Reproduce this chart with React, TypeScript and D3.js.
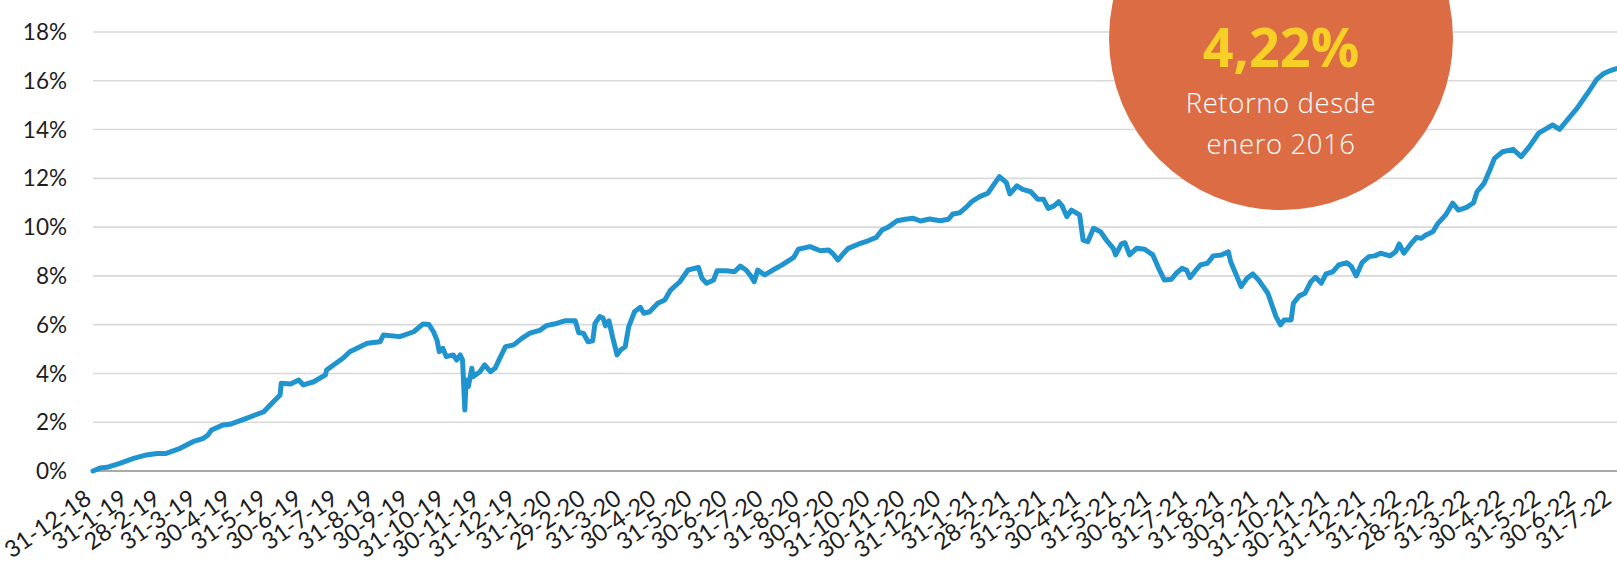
import React from "react";
import * as d3 from "d3";

const WIDTH = 1617;
const HEIGHT = 565;

const yTicks = [0, 2, 4, 6, 8, 10, 12, 14, 16, 18];

const xLabels = [
  "31-12-18", "31-1-19", "28-2-19", "31-3-19", "30-4-19", "31-5-19", "30-6-19", "31-7-19",
  "31-8-19", "30-9-19", "31-10-19", "30-11-19", "31-12-19", "31-1-20", "29-2-20", "31-3-20",
  "30-4-20", "31-5-20", "30-6-20", "31-7-20", "31-8-20", "30-9-20", "31-10-20", "30-11-20",
  "31-12-20", "31-1-21", "28-2-21", "31-3-21", "30-4-21", "31-5-21", "30-6-21", "31-7-21",
  "31-8-21", "30-9-21", "31-10-21", "30-11-21", "31-12-21", "31-1-22", "28-2-22", "31-3-22",
  "30-4-22", "31-5-22", "30-6-22", "31-7-22",
];

const dates = [
  "2018-12-31", "2019-01-06", "2019-01-12", "2019-01-23", "2019-02-04", "2019-02-15", "2019-02-24",
  "2019-03-04", "2019-03-16", "2019-03-27", "2019-04-05", "2019-04-09", "2019-04-12", "2019-04-22",
  "2019-04-29", "2019-05-12", "2019-05-27", "2019-06-03", "2019-06-10", "2019-06-11", "2019-06-19",
  "2019-06-26", "2019-06-30", "2019-07-09", "2019-07-19", "2019-07-20", "2019-08-03", "2019-08-09",
  "2019-08-24", "2019-09-04", "2019-09-07", "2019-09-21", "2019-10-03", "2019-10-11", "2019-10-16",
  "2019-10-20", "2019-10-23", "2019-10-25", "2019-10-28", "2019-10-31", "2019-11-06", "2019-11-09",
  "2019-11-12", "2019-11-14", "2019-11-16", "2019-11-17", "2019-11-19", "2019-11-22", "2019-11-23",
  "2019-11-29", "2019-12-03", "2019-12-08", "2019-12-12", "2019-12-16", "2019-12-21", "2019-12-28",
  "2020-01-04", "2020-01-11", "2020-01-20", "2020-01-25", "2020-02-03", "2020-02-10", "2020-02-19",
  "2020-02-22", "2020-02-26", "2020-03-01", "2020-03-05", "2020-03-07", "2020-03-11", "2020-03-14",
  "2020-03-16", "2020-03-19", "2020-03-22", "2020-03-26", "2020-03-29", "2020-04-02", "2020-04-05",
  "2020-04-10", "2020-04-15", "2020-04-18", "2020-04-23", "2020-04-30", "2020-05-06", "2020-05-11",
  "2020-05-19", "2020-05-26", "2020-06-04", "2020-06-07", "2020-06-11", "2020-06-17", "2020-06-20",
  "2020-06-28", "2020-07-05", "2020-07-10", "2020-07-15", "2020-07-19", "2020-07-22", "2020-07-25",
  "2020-07-31", "2020-08-07", "2020-08-15", "2020-08-25", "2020-08-29", "2020-09-08", "2020-09-17",
  "2020-09-24", "2020-09-28", "2020-10-02", "2020-10-07", "2020-10-11", "2020-10-20", "2020-10-28",
  "2020-11-04", "2020-11-09", "2020-11-14", "2020-11-22", "2020-11-29", "2020-12-06", "2020-12-12",
  "2020-12-20", "2020-12-29", "2021-01-05", "2021-01-09", "2021-01-15", "2021-01-21", "2021-01-25",
  "2021-02-01", "2021-02-08", "2021-02-13", "2021-02-18", "2021-02-24", "2021-02-27", "2021-03-05",
  "2021-03-10", "2021-03-17", "2021-03-23", "2021-03-28", "2021-04-01", "2021-04-06", "2021-04-10",
  "2021-04-13", "2021-04-17", "2021-04-21", "2021-04-28", "2021-05-01", "2021-05-05", "2021-05-10",
  "2021-05-16", "2021-05-21", "2021-05-27", "2021-05-29", "2021-06-03", "2021-06-06", "2021-06-10",
  "2021-06-16", "2021-06-23", "2021-06-30", "2021-07-05", "2021-07-10", "2021-07-16", "2021-07-20",
  "2021-07-25", "2021-07-29", "2021-08-01", "2021-08-05", "2021-08-10", "2021-08-16", "2021-08-21",
  "2021-08-28", "2021-09-03", "2021-09-05", "2021-09-08", "2021-09-14", "2021-09-19", "2021-09-24",
  "2021-09-29", "2021-10-03", "2021-10-07", "2021-10-11", "2021-10-14", "2021-10-18", "2021-10-21",
  "2021-10-27", "2021-10-29", "2021-11-03", "2021-11-08", "2021-11-13", "2021-11-17", "2021-11-22",
  "2021-11-26", "2021-12-02", "2021-12-07", "2021-12-14", "2021-12-18", "2021-12-22", "2021-12-27",
  "2022-01-02", "2022-01-07", "2022-01-12", "2022-01-20", "2022-01-25", "2022-01-28", "2022-02-01",
  "2022-02-07", "2022-02-12", "2022-02-16", "2022-02-20", "2022-02-26", "2022-03-02", "2022-03-09",
  "2022-03-15", "2022-03-20", "2022-03-27", "2022-04-02", "2022-04-05", "2022-04-11", "2022-04-16",
  "2022-04-20", "2022-04-27", "2022-05-06", "2022-05-13", "2022-05-20", "2022-05-28", "2022-06-04",
  "2022-06-09", "2022-06-15", "2022-06-20", "2022-06-30", "2022-07-10", "2022-07-17", "2022-07-23",
  "2022-07-30", "2022-08-03",
];

const values = [
  0.0, 0.12, 0.15, 0.31, 0.52, 0.66, 0.72,
  0.72, 0.93, 1.2, 1.34, 1.48, 1.68, 1.89,
  1.93, 2.16, 2.43, 2.78, 3.12, 3.6, 3.57,
  3.73, 3.53, 3.66, 3.94, 4.14, 4.62, 4.89,
  5.24, 5.3, 5.58, 5.51, 5.71, 6.03, 6.01,
  5.71, 5.37, 4.89, 5.03, 4.69, 4.76, 4.55,
  4.76, 4.55, 2.5, 3.73, 3.46, 4.21, 3.87,
  4.07, 4.35, 4.07, 4.21, 4.62, 5.1, 5.17,
  5.44, 5.65, 5.78, 5.96, 6.05, 6.16, 6.16,
  5.67, 5.65, 5.3, 5.34, 6.05, 6.33, 6.26,
  5.95, 6.16, 5.51, 4.76, 4.96, 5.1, 5.92,
  6.53, 6.71, 6.47, 6.53, 6.88, 7.01, 7.42,
  7.76, 8.24, 8.35, 7.9, 7.7, 7.83, 8.21,
  8.21, 8.17, 8.4, 8.24, 8.0, 7.76, 8.24,
  8.04, 8.24, 8.45, 8.76, 9.09, 9.2, 9.03,
  9.06, 8.9, 8.65, 8.93, 9.13, 9.31, 9.44,
  9.58, 9.88, 9.99, 10.26, 10.32, 10.36, 10.25,
  10.33, 10.26, 10.32, 10.54, 10.59, 10.84, 11.04,
  11.25, 11.39, 11.73, 12.07, 11.82, 11.36, 11.69,
  11.55, 11.45, 11.14, 11.14, 10.77, 10.87, 11.04,
  10.87, 10.43, 10.7, 10.5, 9.47, 9.4, 9.95,
  9.81, 9.47, 9.13, 8.86, 9.31, 9.36, 8.86,
  9.13, 9.09, 8.86, 8.31, 7.83, 7.86, 8.1,
  8.31, 8.24, 7.93, 8.17, 8.45, 8.52, 8.82,
  8.86, 8.99, 8.58, 8.24, 7.56, 7.9, 8.08,
  7.83, 7.56, 7.29, 6.74, 6.33, 5.99, 6.19,
  6.19, 6.88, 7.18, 7.29, 7.76, 7.94, 7.7,
  8.08, 8.17, 8.45, 8.54, 8.38, 8.0, 8.54,
  8.79, 8.82, 8.93, 8.82, 8.99, 9.31, 8.93,
  9.31, 9.58, 9.54, 9.68, 9.81, 10.13, 10.5,
  10.98, 10.7, 10.81, 11.0, 11.45, 11.79, 12.34,
  12.82, 13.09, 13.19, 12.89, 13.3, 13.85, 14.05,
  14.19, 14.01, 14.3, 14.87, 15.55, 16.06, 16.3,
  16.44, 16.5,
];

const badgeValue = "4,22%";
const badgeLines = ["Retorno desde", "enero 2016"];

const parseIso = d3.timeParse("%Y-%m-%d");
const parseLabel = d3.timeParse("%d-%m-%y");

export default function App() {
  const left = 93;
  const right = 1613;
  const top = 32;
  const bottom = 471;

  const x = d3
    .scaleTime()
    .domain([parseIso("2018-12-31") as Date, parseIso("2022-07-31") as Date])
    .range([left, right]);
  const y = d3.scaleLinear().domain([0, 18]).range([bottom, top]);

  const series = dates.map((d, i) => ({ date: parseIso(d) as Date, v: values[i] }));
  const line = d3
    .line<{ date: Date; v: number }>()
    .x((d) => x(d.date))
    .y((d) => y(d.v));

  const labelFont = "Lato, 'Open Sans', sans-serif";

  return (
    <svg
      width={WIDTH}
      height={HEIGHT}
      style={{ position: "absolute", left: 0, top: 0, background: "#fff" }}
    >
      {yTicks.map((t) => (
        <g key={t}>
          <line
            x1={left}
            x2={WIDTH}
            y1={y(t)}
            y2={y(t)}
            stroke={t === 0 ? "#8c8c8c" : "#d9d9d9"}
            strokeWidth={1.6}
          />
          <text
            x={67}
            y={y(t)}
            dy="0.36em"
            textAnchor="end"
            fontFamily={labelFont}
            fontSize={22.5}
            fill="#1e1e1e"
          >
            {t}%
          </text>
        </g>
      ))}

      <path
        d={line(series) || ""}
        fill="none"
        stroke="#1f94ce"
        strokeWidth={5}
        strokeLinejoin="round"
        strokeLinecap="round"
      />

      {xLabels.map((lab) => {
        const xx = x(parseLabel(lab) as Date);
        return (
          <text
            key={lab}
            transform={`translate(${xx},${bottom + 31}) rotate(-35)`}
            textAnchor="end"
            fontFamily={labelFont}
            fontSize={23.5}
            fill="#1e1e1e"
          >
            {lab}
          </text>
        );
      })}

      <circle cx={1281} cy={38} r={172} fill="#dc6c44" />
      <text
        x={1281}
        y={67}
        textAnchor="middle"
        fontFamily="'Open Sans', sans-serif"
        fontWeight={700}
        fontSize={54}
        fill="#f6cf27"
      >
        {badgeValue}
      </text>
      {badgeLines.map((t, i) => (
        <text
          key={t}
          x={1281}
          y={113 + i * 41}
          textAnchor="middle"
          fontFamily="'Open Sans', sans-serif"
          fontWeight={300}
          fontSize={27.5}
          letterSpacing={0.6}
          fill="#ffffff"
        >
          {t}
        </text>
      ))}
    </svg>
  );
}
